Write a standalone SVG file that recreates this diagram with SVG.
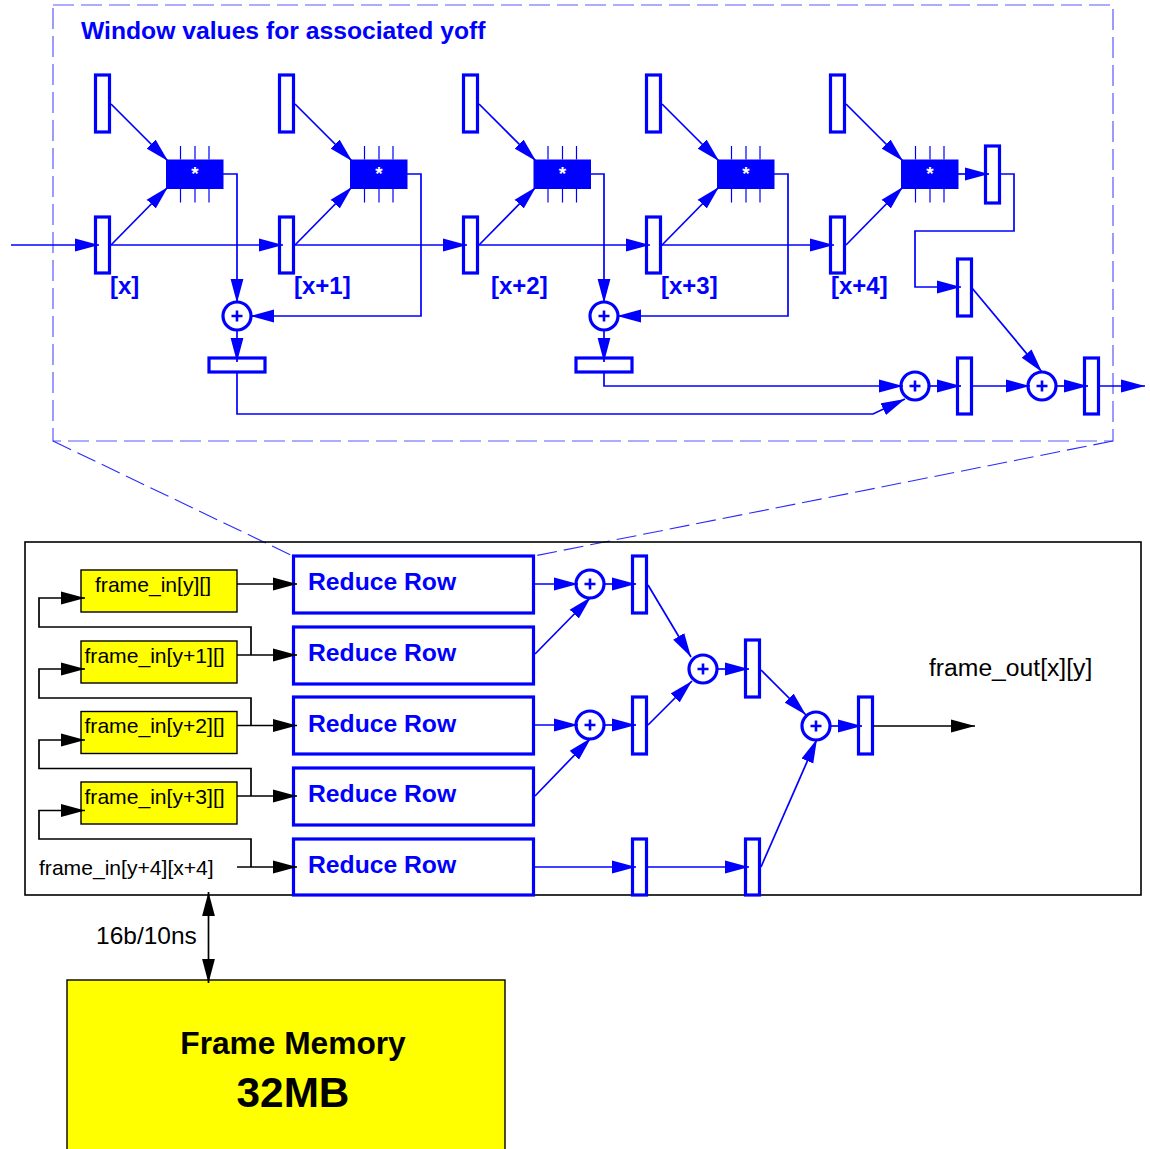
<svg xmlns="http://www.w3.org/2000/svg" width="1150" height="1149" viewBox="0 0 1150 1149">
<style>
text{font-family:"Liberation Sans",Arial,sans-serif}
.reg{fill:#fff;stroke:#00f;stroke-width:3.2}
.add{fill:#fff;stroke:#00f;stroke-width:3.2}
.plus{stroke:#00f;stroke-width:2.6;fill:none}
.pin{stroke:#00f;stroke-width:1.2}
.mul{fill:#00f}
.ba{fill:none;stroke:#00f;stroke-width:1.7;marker-end:url(#ab)}
.ka{fill:none;stroke:#000;stroke-width:1.7;marker-end:url(#ak)}
.yel{fill:#ff0;stroke:#000;stroke-width:1.4}
.lab{font-size:21.1px;fill:#000}
.blab{font-size:24px;font-weight:bold;fill:#00f}
.rr{font-size:24.7px;font-weight:bold;fill:#00f}
.dash{fill:none;stroke:#5a5aff;stroke-width:1.2;stroke-dasharray:21 7}
.dashd{fill:none;stroke:#2a2aff;stroke-width:1.1;stroke-dasharray:20 7}
</style>
<defs>
<marker id="ab" markerUnits="userSpaceOnUse" markerWidth="26" markerHeight="16" refX="24" refY="7" orient="auto"><path d="M0 .6L24 7L0 13.400z" fill="#00f"/></marker>
<marker id="ak" markerUnits="userSpaceOnUse" markerWidth="26" markerHeight="16" refX="24" refY="7" orient="auto"><path d="M0 .6L24 7L0 13.400z" fill="#000"/></marker>
<marker id="aks" markerUnits="userSpaceOnUse" markerWidth="26" markerHeight="16" refX="24" refY="7" orient="auto-start-reverse"><path d="M0 .6L24 7L0 13.400z" fill="#000"/></marker>
<g id="pl"><path class="plus" d="M-5.500 0H5.500M0-5.500V5.500"/></g>
<g id="mu"><rect class="mul" x="0" y="0" width="57.500" height="29.500"/><path class="pin" d="M14.500-13.500V0M29-13.500V0M43-13.500V0M14.500 29.500V43M29 29.500V43M43 29.500V43"/><text x="29" y="20" font-size="19" font-weight="bold" fill="#fff" text-anchor="middle">*</text></g>
</defs>

<g id="window-frame">
<rect class="dash" x="53" y="5" width="1060" height="436"/>
<path class="dashd" d="M53 441L293 556M1113 441L534 556"/>
<text x="81" y="39" font-size="24.700" font-weight="bold" fill="#00f">Window values for associated yoff</text>
</g>

<g id="row-x"><rect class="reg" x="95.500" y="75" width="14" height="57"/><rect class="reg" x="95.500" y="217" width="14" height="56"/><use href="#mu" x="166" y="159.500"/><text class="blab" x="110" y="294">[x]</text></g>
<g id="row-x1"><rect class="reg" x="279.500" y="75" width="14" height="57"/><rect class="reg" x="279.500" y="217" width="14" height="56"/><use href="#mu" x="350" y="159.500"/><text class="blab" x="294" y="294">[x+1]</text></g>
<g id="row-x2"><rect class="reg" x="463.500" y="75" width="14" height="57"/><rect class="reg" x="463.500" y="217" width="14" height="56"/><use href="#mu" x="533.500" y="159.500"/><text class="blab" x="491" y="294">[x+2]</text></g>
<g id="row-x3"><rect class="reg" x="646.500" y="75" width="14" height="57"/><rect class="reg" x="646.500" y="217" width="14" height="56"/><use href="#mu" x="717" y="159.500"/><text class="blab" x="661" y="294">[x+3]</text></g>
<g id="row-x4"><rect class="reg" x="830.500" y="75" width="14" height="57"/><rect class="reg" x="830.500" y="217" width="14" height="56"/><use href="#mu" x="901" y="159.500"/><text class="blab" x="831" y="294">[x+4]</text></g>

<g id="top-adders">
<circle class="add" cx="237" cy="316" r="14"/><use href="#pl" x="237" y="316"/>
<circle class="add" cx="604" cy="316" r="14"/><use href="#pl" x="604" y="316"/>
<circle class="add" cx="915" cy="386" r="14"/><use href="#pl" x="915" y="386"/>
<circle class="add" cx="1042" cy="386" r="14"/><use href="#pl" x="1042" y="386"/>
</g>
<g id="top-regs">
<rect class="reg" x="209" y="358" width="56" height="14"/>
<rect class="reg" x="576" y="358" width="56" height="14"/>
<rect class="reg" x="985.500" y="146" width="14" height="57"/>
<rect class="reg" x="957.500" y="259" width="14" height="57"/>
<rect class="reg" x="957.500" y="358" width="14" height="56"/>
<rect class="reg" x="1084.500" y="358" width="14" height="56"/>
</g>

<g id="system-box"><rect x="25" y="542" width="1116" height="353" fill="none" stroke="#000" stroke-width="1.600"/></g>

<g id="in0"><rect class="yel" x="81" y="570" width="156" height="42"/><text class="lab" x="95" y="592">frame_in[y][]</text></g>
<g id="in1"><rect class="yel" x="81" y="641" width="156" height="42"/><text class="lab" x="84.500" y="663">frame_in[y+1][]</text></g>
<g id="in2"><rect class="yel" x="81" y="711.500" width="156" height="42"/><text class="lab" x="84.500" y="733">frame_in[y+2][]</text></g>
<g id="in3"><rect class="yel" x="81" y="782" width="156" height="42"/><text class="lab" x="84.500" y="804">frame_in[y+3][]</text></g>
<g id="in4"><text class="lab" x="39" y="875">frame_in[y+4][x+4]</text></g>

<g id="rr0"><rect class="reg" x="293.500" y="556" width="240" height="57"/><text class="rr" x="308" y="590">Reduce Row</text></g>
<g id="rr1"><rect class="reg" x="293.500" y="627" width="240" height="57"/><text class="rr" x="308" y="661">Reduce Row</text></g>
<g id="rr2"><rect class="reg" x="293.500" y="697" width="240" height="57"/><text class="rr" x="308" y="732">Reduce Row</text></g>
<g id="rr3"><rect class="reg" x="293.500" y="768" width="240" height="57"/><text class="rr" x="308" y="802">Reduce Row</text></g>
<g id="rr4"><rect class="reg" x="293.500" y="839" width="240" height="56"/><text class="rr" x="308" y="873">Reduce Row</text></g>

<g id="tree">
<circle class="add" cx="590" cy="584" r="14"/><use href="#pl" x="590" y="584"/>
<circle class="add" cx="590" cy="725" r="14"/><use href="#pl" x="590" y="725"/>
<circle class="add" cx="703" cy="669" r="14"/><use href="#pl" x="703" y="669"/>
<circle class="add" cx="816" cy="726" r="14"/><use href="#pl" x="816" y="726"/>
<rect class="reg" x="632.500" y="556" width="14" height="57"/>
<rect class="reg" x="632.500" y="697" width="14" height="57"/>
<rect class="reg" x="632.500" y="839" width="14" height="56"/>
<rect class="reg" x="745.500" y="640" width="14" height="57"/>
<rect class="reg" x="745.500" y="839" width="14" height="56"/>
<rect class="reg" x="858.500" y="697" width="14" height="57"/>
</g>

<g id="labels">
<text x="929" y="676" font-size="24.700" fill="#000">frame_out[x][y]</text>
<text x="96" y="944" font-size="24.500" fill="#000">16b/10ns</text>
</g>

<g id="frame-memory">
<rect x="67" y="980" width="438" height="170" fill="#ff0" stroke="#000" stroke-width="1.400"/>
<text x="293" y="1054" font-size="31.700" font-weight="bold" fill="#000" text-anchor="middle">Frame Memory</text>
<text x="293" y="1107" font-size="42.300" font-weight="bold" fill="#000" text-anchor="middle">32MB</text>
</g>

<g id="connectors">
<path class="ba" d="M11 245H99"/>
<path class="ba" d="M110 245H283"/>
<path class="ba" d="M294 245H467"/>
<path class="ba" d="M478 245H650"/>
<path class="ba" d="M661 245H834"/>
<path class="ba" d="M111 104L168 161"/><path class="ba" d="M111 245L168 187"/>
<path class="ba" d="M295 104L352 161"/><path class="ba" d="M295 245L352 187"/>
<path class="ba" d="M479 104L536 161"/><path class="ba" d="M479 245L536 187"/>
<path class="ba" d="M662 104L719 161"/><path class="ba" d="M662 245L719 187"/>
<path class="ba" d="M846 104L903 161"/><path class="ba" d="M846 245L903 187"/>
<path class="ba" d="M223 174H237V303"/>
<path class="ba" d="M407 174H421V316H250"/>
<path class="ba" d="M591 174H604V303"/>
<path class="ba" d="M774 174H788V316H617"/>
<path class="ba" d="M958 174H989"/>
<path class="ba" d="M1000 174H1014V231H915V287H961"/>
<path class="ba" d="M237 331V362"/>
<path class="ba" d="M604 331V362"/>
<path class="ba" d="M604 373V386H903"/>
<path class="ba" d="M237 373V414H873L905 399"/>
<path class="ba" d="M930 386H961"/>
<path class="ba" d="M972 386H1030"/>
<path class="ba" d="M972 288L1042 372"/>
<path class="ba" d="M1057 386H1088"/>
<path class="ba" d="M1099 386H1145"/>

<path class="ka" d="M237 584H297"/>
<path class="ka" d="M237 655H297"/>
<path class="ka" d="M237 725.500H297"/>
<path class="ka" d="M237 796H297"/>
<path class="ka" d="M237 867H297"/>
<path class="ka" d="M251 655V627H39V598H85"/>
<path class="ka" d="M251 725.500V698H39V669H85"/>
<path class="ka" d="M251 796V768.500H39V740H85"/>
<path class="ka" d="M251 867V839H39V810.500H85"/>

<path class="ba" d="M534 584H578"/>
<path class="ba" d="M535 654L591 597"/>
<path class="ba" d="M534 725H578"/>
<path class="ba" d="M535 796L591 738"/>
<path class="ba" d="M605 584H636"/>
<path class="ba" d="M605 725H636"/>
<path class="ba" d="M648 585L691 657"/>
<path class="ba" d="M648 725L692 681"/>
<path class="ba" d="M718 669H749"/>
<path class="ba" d="M761 670L806 715"/>
<path class="ba" d="M831 726H862"/>
<path class="ka" d="M873 726H975"/>
<path class="ba" d="M535 867H636"/>
<path class="ba" d="M648 867H749"/>
<path class="ba" d="M761 867L817 739"/>
<path fill="none" stroke="#000" stroke-width="1.700" marker-start="url(#aks)" marker-end="url(#aks)" d="M208.500 892V983"/>
</g>
</svg>
